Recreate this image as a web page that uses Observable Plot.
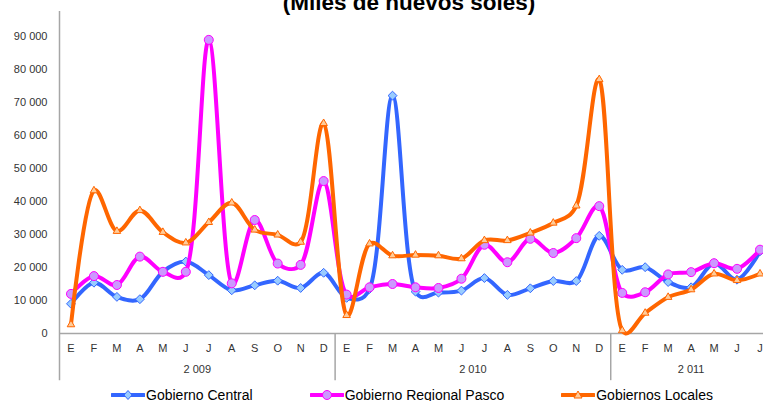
<!DOCTYPE html>
<html><head><meta charset="utf-8">
<script src="https://cdn.jsdelivr.net/npm/d3@7"></script>
<script src="https://cdn.jsdelivr.net/npm/@observablehq/plot@0.6"></script>
<style>
body{margin:0;background:#fff;}
#wrap{position:relative;width:763px;height:401px;overflow:hidden;font-family:"Liberation Sans",Arial,sans-serif;}
#title{position:absolute;top:-8px;left:0;width:818px;text-align:center;font-weight:bold;font-size:22.5px;line-height:22px;color:#000;}
#legend{position:absolute;top:386px;left:0;width:824px;display:flex;justify-content:center;gap:57px;font-size:14px;line-height:18px;color:#000;}
#legend .item{display:flex;align-items:center;white-space:nowrap;}
#legend svg{margin-right:1px;}
#chart{position:absolute;top:0;left:0;}
</style></head>
<body>
<div id="wrap">
  <div id="chart"></div>
  <div id="title">(Miles de nuevos soles)</div>
  <div id="legend"></div>
</div>
<script>
const months = ["E","F","M","A","M","J","J","A","S","O","N","D",
                "E","F","M","A","M","J","J","A","S","O","N","D",
                "E","F","M","A","M","J","J"];
const years = ["2 009","2 010","2 011"];
const yearCenters = [5.5, 17.5, 27];
const yearBounds = [11.5, 23.5];
const yTicks = [0,10000,20000,30000,40000,50000,60000,70000,80000,90000];

const central = [9000,15400,11100,10400,18700,21800,17700,13100,14600,16000,13800,18400,
                 10800,13500,72100,12700,12400,13000,16800,11700,13700,15900,15900,29600,
                 19300,20100,15600,14000,21300,16300,24900];
const regional = [12000,17400,14700,23300,18700,18700,89000,15200,34400,21200,20800,46200,
                  11800,14000,15000,14000,13800,16600,26900,21600,28700,24400,28900,38600,
                  12300,12500,17900,18600,21300,19600,25400];
const locales = [2700,43300,31000,37300,30700,27500,33700,39600,31400,29900,27700,63700,
                 5500,27200,23600,23800,23600,22700,28200,28200,30500,33500,38700,77000,
                 900,6200,11000,13300,18100,16100,18100];

const seriesNames = ["Gobierno Central","Gobierno Regional Pasco","Gobiernos Locales"];
const seriesValues = [central, regional, locales];
const strokes = ["#3366FF","#FF00FF","#FF6600"];
const fills = ["#99CCFF","#CC99FF","#FFCC99"];
const symbols = ["diamond2","circle","triangle2"];
const radii = [4, 4.5, 3.6];

const fmt = d => d === 0 ? "0" : d3.format(",")(d).replace(/,/g, " ");

const seriesMarks = seriesValues.flatMap((vals, k) => {
  const data = vals.map((v, i) => ({i, v}));
  return [
    Plot.line(data, {x:"i", y:"v", stroke: strokes[k], strokeWidth: 4, curve: "catmull-rom", tension: 0.3}),
    Plot.dot(data, {x:"i", y:"v", symbol: symbols[k], r: radii[k], fill: fills[k], stroke: strokes[k], strokeWidth: 1})
  ];
});

const chart = Plot.plot({
  width: 763, height: 401,
  marginLeft: 59, marginRight: -8, marginTop: 11, marginBottom: 68,
  style: {fontFamily: "'Liberation Sans', Arial, sans-serif", background: "transparent"},
  x: {type: "linear", domain: [-0.5, 30.5]},
  y: {domain: [0, 97600]},
  marks: [
    Plot.axisY({ticks: yTicks, tickSize: 0, tickPadding: 12, tickFormat: fmt, fontSize: 11, fill: "#333", label: null}),
    Plot.axisX({ticks: d3.range(months.length), tickSize: 0, tickPadding: 11, tickFormat: i => months[i], fontSize: 11, fill: "#333", label: null}),
    Plot.ruleY([0], {stroke: "#A6A6A6", strokeWidth: 1.5}),
    Plot.ruleX([-0.5], {y1: -14300, y2: 97600, stroke: "#A6A6A6", strokeWidth: 1.5}),
    Plot.ruleX(yearBounds, {y1: -14300, y2: 0, stroke: "#A6A6A6", strokeWidth: 1.5}),
    Plot.text(years, {x: (d, i) => yearCenters[i], text: d => d, frameAnchor: "bottom", dy: 39, fontSize: 11, fill: "#333"}),
    ...seriesMarks
  ]
});
document.getElementById("chart").appendChild(chart);

const legend = document.getElementById("legend");
seriesNames.forEach((name, k) => {
  const item = document.createElement("div");
  item.className = "item";
  let marker;
  if (k === 0) marker = `<path d="M17,4.5 L21,9 L17,13.5 L13,9 Z" fill="${fills[k]}" stroke="${strokes[k]}"/>`;
  else if (k === 1) marker = `<circle cx="17" cy="9" r="4.5" fill="${fills[k]}" stroke="${strokes[k]}"/>`;
  else marker = `<path d="M17,5 L21,12 L13,12 Z" fill="${fills[k]}" stroke="${strokes[k]}"/>`;
  item.innerHTML = `<svg width="34" height="18"><line x1="1" y1="9" x2="33" y2="9" stroke="${strokes[k]}" stroke-width="4" stroke-linecap="round"/>${marker}</svg><span>${name}</span>`;
  legend.appendChild(item);
});
</script>
</body></html>
